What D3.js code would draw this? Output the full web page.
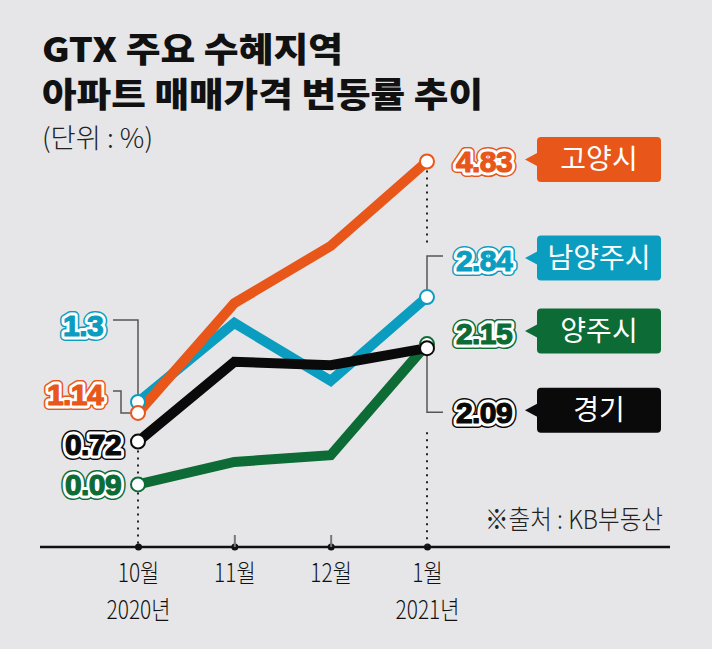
<!DOCTYPE html>
<html>
<head>
<meta charset="utf-8">
<script src="https://cdn.jsdelivr.net/npm/d3@7"></script>
<style>
  html, body { margin: 0; padding: 0; background: #e6e6e8; }
  svg { display: block; }
</style>
</head>
<body>
<div id="chart"></div>
<script>
// --- data ---
const months = ["10월", "11월", "12월", "1월"];
const years = ["2020년", "", "", "2021년"];
const goyang = [1.14, 2.75, 3.59, 4.83];
const namyangju = [1.3, 2.46, 1.61, 2.84];
const yangju = [0.09, 0.42, 0.52, 2.15];
const gyeonggi = [0.72, 1.89, 1.84, 2.09];
const source = "※출처 : KB부동산";

// draw order: teal, green, black, orange on top
const series = [
  { name: "남양주시", values: namyangju, color: "#0b9dc0", startDy: -77, endDy: -37, startEnd: 103 },
  { name: "양주시", values: yangju, color: "#0d6b36", startDy: 0, endDy: -11, startEnd: 121 },
  { name: "경기", values: gyeonggi, color: "#0a0a0a", startDy: 3, endDy: 64, startEnd: 121 },
  { name: "고양시", values: goyang, color: "#e8561a", startDy: -18, endDy: 0, startEnd: 103 }
];

const W = 712, H = 649;
const axisY = 547;
const numFont = "'Liberation Sans', Arial, sans-serif";
const krFont = "'Noto Sans CJK KR', 'Noto Sans', sans-serif";

const svg = d3.select("#chart").append("svg")
  .attr("width", W).attr("height", H);

svg.append("rect").attr("width", W).attr("height", H).attr("fill", "#e6e6e8");

// --- title ---
svg.append("text").attr("x", 42).attr("y", 62)
  .attr("font-family", krFont).attr("font-weight", 900).attr("font-size", 34)
  .attr("textLength", 301).attr("lengthAdjust", "spacingAndGlyphs")
  .attr("fill", "#111").text("GTX 주요 수혜지역");
svg.append("text").attr("x", 42).attr("y", 107)
  .attr("font-family", krFont).attr("font-weight", 900).attr("font-size", 34)
  .attr("textLength", 441).attr("lengthAdjust", "spacingAndGlyphs")
  .attr("fill", "#111").text("아파트 매매가격 변동률 추이");
svg.append("text").attr("x", 42).attr("y", 148)
  .attr("font-family", krFont).attr("font-weight", 300).attr("font-size", 27)
  .attr("textLength", 111).attr("lengthAdjust", "spacingAndGlyphs")
  .attr("fill", "#222").text("(단위 : %)");

// --- scales ---
const x = d3.scalePoint().domain(months).range([138, 427]);
const y = d3.scaleLinear().domain([0, 5]).range([490.6, 490.6 - 5 * 68.14]);

// --- axis ---
svg.append("line").attr("x1", 40).attr("x2", 670)
  .attr("y1", axisY).attr("y2", axisY)
  .attr("stroke", "#111").attr("stroke-width", 2.5);

const axis = svg.append("g").attr("transform", `translate(0,${axisY})`)
  .call(d3.axisBottom(x).tickSize(0).tickPadding(0).tickFormat(() => ""));
axis.select(".domain").remove();

axis.selectAll(".tick").each(function (d, i) {
  const g = d3.select(this);
  g.append("circle").attr("r", 3.5).attr("fill", "#111");
  if (i === 1 || i === 2) {
    g.append("line").attr("y1", -12).attr("y2", 0)
      .attr("stroke", "#777").attr("stroke-width", 2);
  }
  const t = g.append("g").attr("transform", "scale(0.82,1)");
  t.append("text").attr("y", 35).attr("text-anchor", "middle")
    .attr("font-family", krFont).attr("font-weight", 300).attr("font-size", 25.5)
    .attr("fill", "#111").text(d);
  if (years[i]) {
    t.append("text").attr("y", 72).attr("text-anchor", "middle")
      .attr("font-family", krFont).attr("font-weight", 300).attr("font-size", 25.5)
      .attr("fill", "#111").text(years[i]);
  }
});

// --- source ---
svg.append("text").attr("x", 485).attr("y", 529)
  .attr("font-family", krFont).attr("font-weight", 300).attr("font-size", 26)
  .attr("textLength", 178).attr("lengthAdjust", "spacingAndGlyphs")
  .attr("fill", "#222").text(source);

// --- dotted guide lines ---
const first = months[0], last = months[months.length - 1];
const dotted = [
  [x(first), y(gyeonggi[0]) + 9, axisY],
  [x(last), y(goyang[3]) + 9, y(namyangju[3]) - 37 - 14],
  [x(last), y(gyeonggi[3]) + 64 + 20, axisY]
];
svg.selectAll(".dot-guide").data(dotted).join("line")
  .attr("class", "dot-guide")
  .attr("x1", d => d[0]).attr("x2", d => d[0])
  .attr("y1", d => d[1]).attr("y2", d => d[2])
  .attr("stroke", "#222").attr("stroke-width", 2)
  .attr("stroke-dasharray", "2,5");

// --- leader lines ---
const leaderColor = "#555";
const sNam = series[0], sGg = series[2], sGo = series[3];
const x0 = x(first), x3 = x(last);
const leaders = [
  `M113,${y(namyangju[0]) + sNam.startDy - 5}H${x0}V${y(namyangju[0]) - 7}`,
  `M113,${y(goyang[0]) + sGo.startDy - 4}H121V${y(goyang[0])}H${x0 - 7}`,
  `M${x3},${y(namyangju[3]) - 7}V${y(namyangju[3]) + sNam.endDy - 4}H443`,
  `M${x3},${y(gyeonggi[3]) + 7}V${y(gyeonggi[3]) + sGg.endDy}H443`
];
svg.selectAll(".leader").data(leaders).join("path")
  .attr("class", "leader").attr("d", d => d)
  .attr("fill", "none").attr("stroke", leaderColor).attr("stroke-width", 1.5);

// --- lines ---
const line = d3.line().x((d, i) => x(months[i])).y(d => y(d));
svg.selectAll(".series-line").data(series).join("path")
  .attr("class", "series-line")
  .attr("d", d => line(d.values))
  .attr("fill", "none").attr("stroke", d => d.color)
  .attr("stroke-width", 10).attr("stroke-linejoin", "miter");

// --- end circles ---
series.forEach(s => {
  [0, s.values.length - 1].forEach(i => {
    svg.append("circle")
      .attr("cx", x(months[i])).attr("cy", y(s.values[i])).attr("r", 7)
      .attr("fill", "#fff").attr("stroke", s.color).attr("stroke-width", 2);
  });
});

// --- value labels with white halo ---
function haloText(px, py, anchor, str, color) {
  const g = svg.append("g").attr("transform", `translate(${px},${py + 10.5})`);
  const base = t => t.attr("text-anchor", anchor)
    .attr("font-family", numFont).attr("font-weight", 700).attr("font-size", 30)
    .attr("letter-spacing", -0.6).attr("stroke-linejoin", "round").text(str);
  g.append("text").call(base).attr("fill", color).attr("stroke", color).attr("stroke-width", 10);
  g.append("text").call(base).attr("fill", color).attr("stroke", "#fff").attr("stroke-width", 7);
  g.append("text").call(base).attr("fill", color).attr("stroke", color).attr("stroke-width", 1.2);
}

const fmt = v => String(v);
series.forEach(s => {
  const n = s.values.length - 1;
  haloText(s.startEnd, y(s.values[0]) + s.startDy, "end", fmt(s.values[0]), s.color);
  haloText(512, y(s.values[n]) + s.endDy, "end", fmt(s.values[n]), s.color);

  // legend tag
  const cy = y(s.values[n]) + s.endDy - 2;
  const tag = svg.append("g").attr("transform", `translate(537,${cy})`);
  tag.append("rect").attr("x", 0).attr("y", -22.5).attr("width", 124).attr("height", 45)
    .attr("rx", 4).attr("fill", s.color);
  tag.append("path").attr("d", "M-12,0L1,-7L1,7Z").attr("fill", s.color);
  tag.append("text").attr("x", 62).attr("y", 10).attr("text-anchor", "middle")
    .attr("font-family", krFont).attr("font-weight", 400).attr("font-size", 28)
    .attr("fill", "#fff").text(s.name);
});
</script>
</body>
</html>
